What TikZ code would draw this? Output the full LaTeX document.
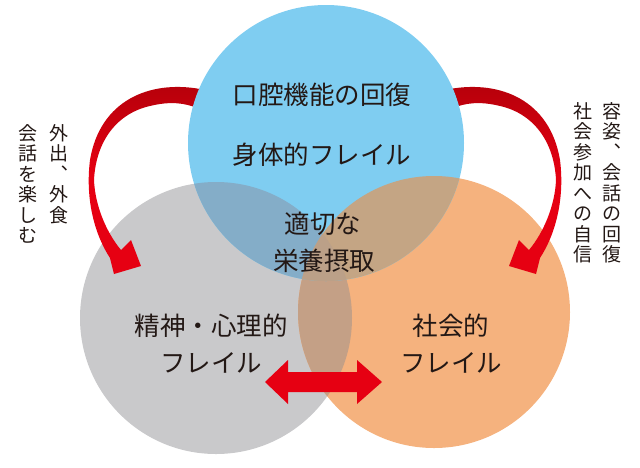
\documentclass[tikz,border=0pt]{standalone}
\usepackage{fontspec}
\newfontfamily\jp{Noto Sans CJK JP}
\definecolor{cblue}{RGB}{127,205,241}
\definecolor{cgray}{RGB}{201,201,203}
\definecolor{corange}{RGB}{245,178,126}
\definecolor{cbg}{RGB}{132,173,200}
\definecolor{cbo}{RGB}{196,165,132}
\definecolor{cgo}{RGB}{196,160,134}
\definecolor{cbgo}{RGB}{187,160,136}
\definecolor{arrdark}{RGB}{180,0,10}
\definecolor{arrred}{RGB}{230,0,18}
\definecolor{txt}{RGB}{35,24,21}
\tikzset{
  lbl/.style={font=\jp\fontsize{25.5}{30}\selectfont, text=txt, inner sep=0pt},
  side/.style={font=\jp\fontsize{19}{20.5}\selectfont, text=txt, inner sep=0pt, align=center, anchor=north},
  curved/.style={top color=arrdark, bottom color=arrred, middle color=arrred},
  dbl/.style={fill=arrred}
}
\begin{document}
\begin{tikzpicture}[x=1pt,y=-1pt]
\useasboundingbox (0,0) rectangle (640,467);
\coordinate (B) at (326,143);
\coordinate (G) at (216,318);
\coordinate (O) at (434,312);
% lower circles
\fill[cgray] (G) circle[radius=136pt];
\fill[corange] (O) circle[radius=136pt];
\begin{scope}
  \clip (G) circle[radius=136pt];
  \fill[cgo] (O) circle[radius=136pt];
\end{scope}
% curved arrows
\foreach \s/\sh in {1/0,-1/650}{
  \begin{scope}[shift={(\sh,0)}, xscale=\s]
    \shade[curved] (215,92) -- (200,89) .. controls (150,80) and (100,100) .. (90,160)
      .. controls (85,200) and (95,235) .. (110,258) -- (114,274) -- (141,266) -- (131,240) -- (121,250)
      .. controls (106,232) and (95,205) .. (94,180)
      .. controls (96,140) and (118,113) .. (150,106)
      .. controls (170,101) and (185,103) .. (197,108) -- (215,112) -- cycle;
  \end{scope}
}
% top circle
\fill[cblue] (B) circle[radius=138pt];
\begin{scope}
  \clip (B) circle[radius=138pt];
  \fill[cbg] (G) circle[radius=136pt];
  \fill[cbo] (O) circle[radius=136pt];
  \clip (G) circle[radius=136pt];
  \fill[cbgo] (O) circle[radius=136pt];
\end{scope}
% double arrow
\coordinate (dl) at (265,382);
\coordinate (dr) at (382,382);
\fill[dbl] (dl) -- ++(23,-22) -- ++(0,12) -- ++(69,0) -- ++(0,-12) -- (dr)
  -- ++(-25,22) -- ++(0,-12) -- ++(-69,0) -- ++(0,12) -- cycle;
% texts
\node[lbl] (t1) at (322,95) {口腔機能の回復};
\node[lbl] (t2) at (322,155) {身体的フレイル};
\node[lbl] (t3) at (323,224) {適切な};
\node[lbl] (t4) at (324,261) {栄養摂取};
\node[lbl] (t5) at (211,326) {精神・心理的};
\node[lbl] (t6) at (211,363) {フレイル};
\node[lbl] (t7) at (451,326) {社会的};
\node[lbl] (t8) at (451,363) {フレイル};
\node[side] (s1) at (59,124) {外\\出\\︑\\外\\食};
\node[side] (s2) at (28,124) {会\\話\\を\\楽\\し\\む};
\node[side] (s3) at (612,102) {容\\姿\\︑\\会\\話\\の\\回\\復};
\node[side] (s4) at (583,102) {社\\会\\参\\加\\へ\\の\\自\\信};
\end{tikzpicture}
\end{document}
